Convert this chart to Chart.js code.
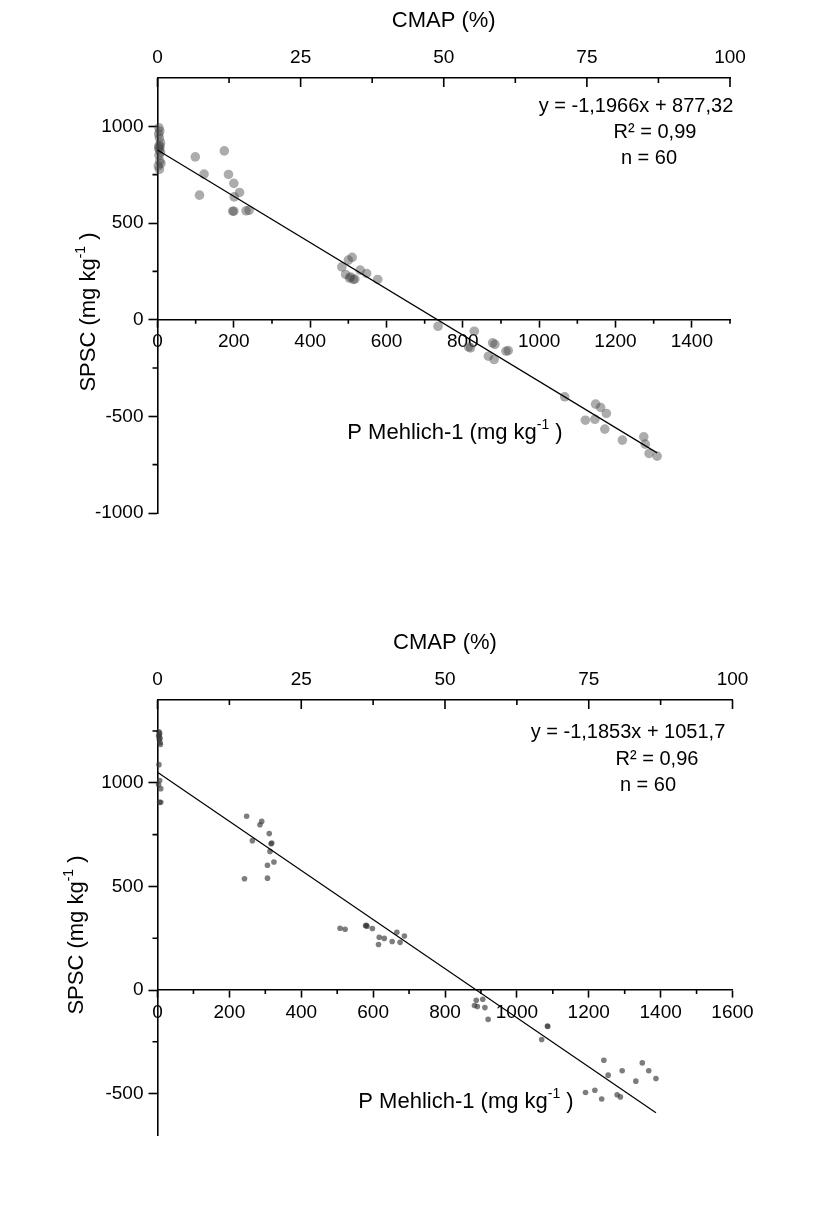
<!DOCTYPE html>
<html>
<head>
<meta charset="utf-8">
<script src="https://cdn.jsdelivr.net/npm/chart.js@4.4.1/dist/chart.umd.min.js"></script>
<style>
  html, body { margin: 0; padding: 0; background: #fff; }
  #wrap { position: relative; width: 831px; height: 1227px; background: #fff; }
  canvas { position: absolute; left: 0; }
</style>
</head>
<body>
<div id="wrap">
  <canvas id="upper" width="831" height="622" style="top:0"></canvas>
  <canvas id="lower" width="831" height="605" style="top:622px"></canvas>
</div>
<script>
// ---------- upper panel: P Mehlich-1 vs SPSC ----------
const upperP = [4, 6, 3, 5, 8, 4, 7, 3, 5, 8, 4, 6, 9, 2, 5,
  99, 110, 122, 175, 186, 200, 215, 201, 197, 200, 232, 240,
  483, 500, 510, 493, 506, 513, 517, 531, 548, 577, 503,
  735,
  830, 820, 815, 878, 884, 867, 882, 913, 919,
  1067, 1148, 1161, 1176, 1121, 1146, 1172, 1218, 1274, 1278, 1288, 1309];
const upperSPSC = [992, 975, 960, 940, 915, 900, 895, 888, 878, 865, 850, 820, 808, 795, 778,
  842, 644, 753, 873, 751, 705, 658, 635, 561, 561, 563, 566,
  273, 308, 322, 234, 221, 208, 210, 256, 239, 208, 215,
  -34,
  -60, -146, -140, -120, -128, -189, -206, -163, -160,
  -399, -437, -454, -485, -520, -515, -566, -623, -606, -644, -692, -706];
const upperSlope = -1.1966, upperIntercept = 877.32, upperR2 = 0.99;

// ---------- lower panel ----------
const lowerP = [4, 6, 3, 7, 5, 8, 4, 6, 3, 9, 6, 9, 5, 7,
  248, 285, 290, 311, 264, 316, 318, 313, 324, 306, 242, 306,
  508, 522, 579, 581, 583, 598, 617, 631, 615, 653, 666, 675, 687,
  887, 882, 905, 911, 920, 890,
  1085, 1086, 1069,
  1242, 1254, 1293, 1331, 1349, 1367, 1387, 1191, 1217, 1236, 1279, 1288];
const lowerSPSC = [1247, 1240, 1226, 1215, 1210, 1185, 1088, 1011, 992, 972, 906, 906, 1230, 1195,
  839, 798, 814, 755, 721, 706, 710, 669, 618, 602, 537, 540,
  298, 293, 310, 312, 308, 297, 255, 249, 220, 234, 279, 230, 261,
  -50, -75, -45, -85, -142, -80,
  -174, -176, -239,
  -339, -411, -390, -440, -352, -390, -427, -495, -484, -526, -506, -516];
const lowerSlope = -1.1853, lowerIntercept = 1051.7, lowerR2 = 0.96;

// ---------- tick values ----------
const cmapMajor = [0, 25, 50, 75, 100];
const cmapMinor = [12.5, 37.5, 62.5, 87.5];
const upperPMajor = [0, 200, 400, 600, 800, 1000, 1200, 1400];
const lowerPMajor = [0, 200, 400, 600, 800, 1000, 1200, 1400, 1600];
const pMinor = [100, 300, 500, 700, 900, 1100, 1300, 1500];
const upperYMajor = [-1000, -500, 0, 500, 1000];
const upperYMinor = [-750, -250, 250, 750];
const lowerYMajor = [-500, 0, 500, 1000];
const lowerYMinor = [-250, 250, 750, 1250];

const FAMILY = "'Liberation Sans', Arial, Helvetica, sans-serif";
Chart.defaults.font.family = FAMILY;
Chart.defaults.font.size = 19;
Chart.defaults.color = '#000';
const AXIS_W = 1.6;

const dec = v => String(v).replace('.', ',');
const fixedTicks = values => scale => { scale.ticks = values.map(value => ({value})); };
const plainLabel = v => String(v);

// text with a superscript run, centred on (cx, cy)
function drawRich(ctx, parts, cx, cy, size) {
  const supSize = Math.round(size * 0.62);
  let total = 0;
  parts.forEach(p => {
    ctx.font = `${p.sup ? supSize : size}px ${FAMILY}`;
    p.w = ctx.measureText(p.t).width;
    total += p.w;
  });
  let x = cx - total / 2;
  const base = cy + size * 0.36;
  ctx.textAlign = 'left';
  ctx.textBaseline = 'alphabetic';
  parts.forEach(p => {
    ctx.font = `${p.sup ? supSize : size}px ${FAMILY}`;
    ctx.fillText(p.t, x, p.sup ? base - size * 0.45 : base);
    x += p.w;
  });
}

const unitParts = lead => [{t: lead + ' (mg kg'}, {t: '-1', sup: true}, {t: ' )'}];

// minor ticks, inward CMAP ticks, axis titles and the fit annotation
const panelDecor = {
  id: 'panelDecor',
  afterDraw(chart, _args, o) {
    const {ctx, chartArea: ca, scales} = chart;
    ctx.save();
    ctx.strokeStyle = '#000';
    ctx.lineWidth = AXIS_W;
    ctx.beginPath();
    cmapMajor.forEach(v => {
      const px = scales.cmap.getPixelForValue(v);
      ctx.moveTo(px, ca.top); ctx.lineTo(px, ca.top + 9);
    });
    cmapMinor.forEach(v => {
      const px = scales.cmap.getPixelForValue(v);
      ctx.moveTo(px, ca.top); ctx.lineTo(px, ca.top + 5);
    });
    const y0 = scales.y.getPixelForValue(0);
    pMinor.forEach(v => {
      if (v > scales.x.max) return;
      const px = scales.x.getPixelForValue(v);
      ctx.moveTo(px, y0); ctx.lineTo(px, y0 + 4);
    });
    o.yMinor.forEach(v => {
      const py = scales.y.getPixelForValue(v);
      ctx.moveTo(ca.left, py); ctx.lineTo(ca.left - 5, py);
    });
    ctx.stroke();

    ctx.fillStyle = '#000';
    drawRich(ctx, unitParts('P Mehlich-1'), o.xTitle[0], o.xTitle[1], 22);

    ctx.save();
    ctx.translate(o.yTitle[0], o.yTitle[1]);
    ctx.rotate(-Math.PI / 2);
    drawRich(ctx, unitParts('SPSC'), 0, 0, 22);
    ctx.restore();

    ctx.font = `20px ${FAMILY}`;
    ctx.textAlign = 'center';
    ctx.textBaseline = 'middle';
    const lines = [
      `y = ${dec(o.slope)}x + ${dec(o.intercept)}`,
      `R² = ${dec(o.r2)}`,
      `n = ${o.n}`
    ];
    lines.forEach((t, i) => ctx.fillText(t, o.eq[i][0], o.eq[i][1]));
    ctx.restore();
  }
};

function makePanel(id, cfg) {
  const pts = cfg.p.map((x, i) => ({x, y: cfg.s[i]}));
  const xEnd = Math.max(...cfg.p);
  const fit = [
    {x: 0, y: cfg.intercept},
    {x: xEnd, y: cfg.slope * xEnd + cfg.intercept}
  ];
  const tickFont = {size: 19};
  return new Chart(document.getElementById(id), {
    type: 'scatter',
    data: {
      datasets: [
        {
          data: fit, showLine: true, borderColor: '#000', borderWidth: 1.2,
          pointRadius: 0, pointHoverRadius: 0, clip: false
        },
        {
          data: pts, pointRadius: cfg.radius, pointHoverRadius: cfg.radius,
          backgroundColor: cfg.fill, borderWidth: 0, clip: false
        }
      ]
    },
    options: {
      responsive: false,
      animation: false,
      events: [],
      layout: {padding: {left: 0, top: 0, right: cfg.padRight, bottom: cfg.padBottom}},
      plugins: {
        legend: {display: false},
        tooltip: {enabled: false},
        panelDecor: {
          yMinor: cfg.yMinor, xTitle: cfg.xTitle, yTitle: cfg.yTitle, eq: cfg.eq,
          slope: cfg.slope, intercept: cfg.intercept, r2: cfg.r2, n: cfg.p.length
        }
      },
      scales: {
        x: {
          type: 'linear', position: {y: 0}, min: 0, max: cfg.xMax,
          afterBuildTicks: fixedTicks(cfg.xMajor),
          ticks: {padding: 4, font: tickFont, maxRotation: 0, autoSkip: false, callback: plainLabel},
          grid: {display: true, drawOnChartArea: false, drawTicks: true, tickLength: 7, tickColor: '#000', tickWidth: AXIS_W},
          border: {display: true, color: '#000', width: AXIS_W}
        },
        cmap: {
          type: 'linear', axis: 'x', position: 'top', min: 0, max: 100,
          afterBuildTicks: fixedTicks(cmapMajor),
          ticks: {padding: 9, font: tickFont, maxRotation: 0, autoSkip: false, callback: plainLabel},
          grid: {display: true, drawOnChartArea: false, drawTicks: false},
          border: {display: true, color: '#000', width: AXIS_W},
          title: {display: true, text: 'CMAP (%)', font: {size: 22}, color: '#000', padding: {top: 8, bottom: 0}},
          afterFit(s) { s.height = 78; }
        },
        y: {
          type: 'linear', position: 'left', min: cfg.yMin, max: cfg.yMax,
          afterBuildTicks: fixedTicks(cfg.yMajor),
          ticks: {padding: 5, font: tickFont, autoSkip: false, callback: plainLabel},
          grid: {display: true, drawOnChartArea: false, drawTicks: true, tickLength: 9, tickColor: '#000', tickWidth: AXIS_W},
          border: {display: true, color: '#000', width: AXIS_W},
          afterFit(s) { s.width = 157.5; }
        }
      }
    },
    plugins: [panelDecor]
  });
}

makePanel('upper', {
  p: upperP, s: upperSPSC, slope: upperSlope, intercept: upperIntercept, r2: upperR2,
  xMax: 1500, yMin: -1000, yMax: 1250, xMajor: upperPMajor, yMajor: upperYMajor, yMinor: upperYMinor,
  radius: 4.8, fill: 'rgba(70,70,70,0.45)',
  padRight: 101, padBottom: 109,
  xTitle: [455, 431], yTitle: [87, 312],
  eq: [[636, 106], [655, 132], [649, 158]]
});

makePanel('lower', {
  p: lowerP, s: lowerSPSC, slope: lowerSlope, intercept: lowerIntercept, r2: lowerR2,
  xMax: 1600, yMin: -700, yMax: 1400, xMajor: lowerPMajor, yMajor: lowerYMajor, yMinor: lowerYMinor,
  radius: 2.8, fill: 'rgba(55,55,55,0.65)',
  padRight: 98.5, padBottom: 92,
  xTitle: [466, 478], yTitle: [75, 313],
  eq: [[628, 110], [657, 137], [648, 163]]
});
</script>
</body>
</html>
